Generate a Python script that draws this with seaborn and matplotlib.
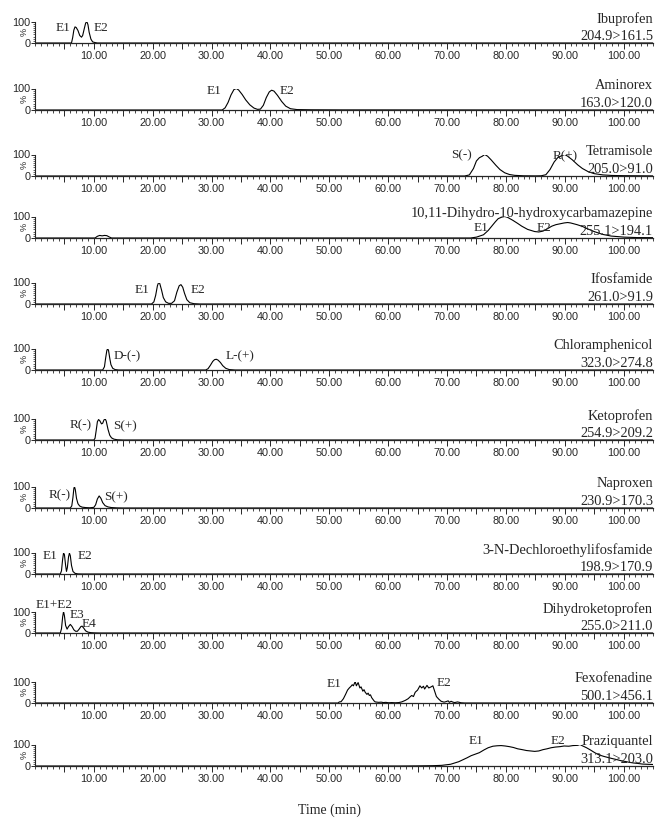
import numpy as np
import pandas as pd
import matplotlib
matplotlib.use("Agg")
import matplotlib.pyplot as plt
from matplotlib.ticker import MultipleLocator, FixedLocator
import seaborn as sns

# ---------------- data ----------------
compounds = ["Ibuprofen", "Aminorex", "Tetramisole",
             "10,11-Dihydro-10-hydroxycarbamazepine", "Ifosfamide",
             "Chloramphenicol", "Ketoprofen", "Naproxen",
             "3-N-Dechloroethylifosfamide", "Dihydroketoprofen",
             "Fexofenadine", "Praziquantel"]
transitions = ["204.9>161.5", "163.0>120.0", "205.0>91.0", "255.1>194.1",
               "261.0>91.9", "323.0>274.8", "254.9>209.2", "230.9>170.3",
               "198.9>170.9", "255.0>211.0", "500.1>456.1", "313.1>203.0"]

ibu_t = [0, 6.2, 6.4, 6.6, 6.8, 7.0, 7.3, 7.6, 7.9, 8.1, 8.4, 8.6, 8.8, 9.0, 9.2, 9.5, 9.8, 10.2, 10.6, 105]
ibu_i = [0, 0, 25, 60, 75, 72, 58, 35, 27, 35, 70, 92, 100, 85, 50, 18, 5, 2, 0, 0]

ami_t = [0, 31.8, 32.3, 32.8, 33.3, 33.8, 34.2, 34.6, 35.2, 35.8, 36.5, 37.2, 37.8, 38.3, 38.8,
         39.3, 39.8, 40.2, 40.6, 41.2, 41.9, 42.6, 43.4, 44.5, 47, 52, 105]
ami_i = [0, 0, 10, 35, 70, 95, 100, 93, 72, 47, 24, 9, 3, 4, 22,
         58, 84, 92, 88, 68, 40, 18, 6, 2, 1, 0.5, 0]

tet_t = [0, 73.0, 73.8, 74.5, 75.0, 75.5, 76.0, 76.4, 76.9, 77.5, 78.3, 79.0, 79.8, 80.6, 81.5, 83, 85,
         86.0, 86.8, 87.5, 88.2, 88.8, 89.5, 90.0, 90.5, 91.3, 92.2, 93.0, 94.0, 95.0, 96.5, 98, 100, 105]
tet_i = [0, 0, 5, 35, 70, 85, 92, 100, 92, 75, 50, 30, 15, 7, 3, 1, 0.5,
         1, 6, 30, 65, 85, 95, 100, 92, 75, 52, 35, 20, 11, 5, 2.5, 1.5, 0.5]

dhc_t = [0, 10.2, 10.6, 11.0, 11.4, 11.8, 12.2, 12.6, 13.0, 74.0, 75.0, 76.2, 77.0, 77.6, 78.2, 78.7,
         79.3, 79.8, 80.3, 81.2, 82.0, 82.7, 83.7, 84.9, 85.6, 86.3, 87.0, 87.8, 88.5, 89.2, 89.9,
         90.5, 91.0, 92.1, 93.0, 93.6, 95.0, 96.4, 97.9, 100.1, 102.3, 105]
dhc_i = [0, 0, 8, 12, 10, 12, 11, 5, 0, 0, 4, 15, 35, 55, 75, 90,
         97, 100, 96, 82, 68, 55, 40, 30, 28, 32, 42, 55, 62, 66, 70,
         72, 70, 62, 54, 46, 30, 17, 9, 4, 2, 1.5]

ifo_t = [0, 19.8, 20.2, 20.5, 20.8, 21.0, 21.2, 21.5, 21.8, 22.2, 22.7, 23.2, 23.7, 24.1, 24.5, 24.8,
         25.1, 25.4, 25.8, 26.3, 27, 28, 105]
ifo_i = [0, 0, 10, 40, 85, 100, 95, 65, 30, 10, 3, 3, 15, 55, 85, 90,
         78, 50, 20, 6, 1.5, 0, 0]

chl_t = [0, 11.5, 11.8, 12.0, 12.2, 12.35, 12.5, 12.7, 12.9, 13.2, 13.6, 14.2, 29.0, 29.4, 29.8, 30.2,
         30.5, 30.8, 31.1, 31.5, 31.9, 32.4, 33.0, 34, 105]
chl_i = [0, 0, 15, 55, 90, 100, 90, 55, 25, 8, 2, 0, 0, 6, 22, 40,
         48, 50, 46, 35, 20, 8, 2, 0, 0]

ket_t = [0, 10.0, 10.2, 10.4, 10.6, 10.8, 11.0, 11.3, 11.5, 11.7, 11.9, 12.1, 12.4, 12.7, 13.0, 13.4, 14, 15, 105]
ket_i = [0, 0, 8, 45, 85, 95, 90, 75, 78, 92, 100, 88, 50, 22, 10, 4, 1, 0, 0]

nap_t = [0, 6.0, 6.25, 6.45, 6.6, 6.7, 6.85, 7.05, 7.3, 7.6, 8.0, 8.6, 9.3, 10.0, 10.3, 10.6, 10.9,
         11.2, 11.5, 11.9, 12.4, 13.0, 14, 15, 105]
nap_i = [0, 0, 10, 50, 90, 100, 85, 45, 20, 9, 4, 2, 1, 3, 15, 42, 56,
         45, 25, 11, 5, 2, 0.5, 0, 0]

dcl_t = [0, 4.3, 4.5, 4.7, 4.85, 5.0, 5.2, 5.35, 5.5, 5.7, 5.85, 6.0, 6.2, 6.45, 6.8, 7.3, 8, 105]
dcl_i = [0, 0, 15, 70, 98, 90, 40, 12, 30, 80, 97, 85, 40, 12, 3, 0.5, 0, 0]

dhk_t = [0, 4.3, 4.5, 4.7, 4.85, 5.0, 5.2, 5.45, 5.7, 6.0, 6.3, 6.6, 6.9, 7.2, 7.5, 7.8, 8.0, 8.3,
         8.6, 9.0, 9.5, 10.2, 11, 105]
dhk_i = [0, 0, 20, 75, 100, 80, 35, 18, 30, 40, 30, 15, 8, 8, 18, 30, 32, 22,
         10, 4, 1.5, 0.5, 0, 0]

fex_t = [0, 51.5, 51.7, 52.0, 52.4, 52.8, 53.1, 53.4, 53.7, 53.9, 54.1, 54.4, 54.6, 54.9, 55.2, 55.4,
         55.7, 55.9, 56.1, 56.4, 56.6, 56.8, 57.0, 57.2, 57.6, 57.8, 58.4, 58.8, 59.2, 59.6, 60.1,
         60.6, 61.2, 61.8, 62.3, 62.9, 63.4, 63.7, 64.0, 64.3, 64.6, 65.0, 65.4, 65.7, 66.0, 66.2,
         66.6, 66.9, 67.3, 67.6, 67.9, 68.2, 68.6, 69.0, 69.5, 69.8, 70.2, 70.4, 70.7, 71.0, 71.3,
         71.8, 72.4, 73.0, 105]
fex_i = [0, 0, 5, 6, 20, 42, 60, 70, 78, 85, 80, 100, 80, 95, 70, 75,
         55, 62, 50, 40, 46, 35, 38, 25, 10, 5, 3, 4, 2, 3, 1,
         2, 1, 2, 5, 12, 20, 28, 35, 30, 50, 60, 80, 70, 78, 65,
         82, 70, 75, 80, 55, 30, 18, 8, 4, 6, 10, 3, 8, 4, 2,
         5, 1, 0, 0]

pzq_t = [0, 62.0, 64.7, 67.6, 69.1, 70.6, 72.0, 73.4, 74.1, 74.8, 75.5, 76.3, 77.0, 77.8, 78.5, 79.2,
         79.9, 80.6, 81.3, 82.0, 82.8, 83.5, 84.2, 84.9, 85.6, 86.3, 87.0, 87.7, 88.4, 89.2, 89.9,
         90.7, 91.4, 92.2, 92.6, 93.0, 93.7, 94.4, 95.1, 95.8, 96.6, 97.3, 98.0, 98.8, 99.5, 100.3,
         101.0, 101.7, 102.4, 103.2, 104.0, 105]
pzq_i = [0, 0, 0.5, 1.5, 3, 8, 20, 38, 48, 55, 62, 75, 85, 92, 94, 95,
         93, 90, 86, 80, 76, 72, 70, 68, 70, 76, 80, 85, 88, 90, 93,
         92, 95, 96, 100, 94, 85, 74, 62, 52, 45, 40, 35, 30, 25, 21,
         17, 14, 12, 9, 8, 7]

times = [ibu_t, ami_t, tet_t, dhc_t, ifo_t, chl_t, ket_t, nap_t, dcl_t, dhk_t, fex_t, pzq_t]
intens = [ibu_i, ami_i, tet_i, dhc_i, ifo_i, chl_i, ket_i, nap_i, dcl_i, dhk_i, fex_i, pzq_i]

peak_labels = [["E1", "E2"], ["E1", "E2"], ["S(-)", "R(+)"], ["E1", "E2"], ["E1", "E2"],
               ["D-(-)", "L-(+)"], ["R(-)", "S(+)"], ["R(-)", "S(+)"], ["E1", "E2"],
               ["E1+E2", "E3", "E4"], ["E1", "E2"], ["E1", "E2"]]

x_ticks = [10, 20, 30, 40, 50, 60, 70, 80, 90, 100]
x_tick_labels = ["10.00", "20.00", "30.00", "40.00", "50.00", "60.00",
                 "70.00", "80.00", "90.00", "100.00"]
y_tick_labels = ["0", "100"]

# ---------------- layout ----------------
label_pos = [
    [(6.0, 72, "right"), (10.0, 72, "left")],
    [(31.6, 88, "right"), (41.6, 88, "left")],
    [(74.2, 95, "right"), (88.0, 92, "left")],
    [(77.0, 45, "right"), (85.3, 45, "left")],
    [(19.4, 67, "right"), (26.4, 67, "left")],
    [(13.4, 65, "left"), (32.4, 65, "left")],
    [(9.6, 70, "right"), (13.2, 62, "left")],
    [(6.0, 60, "right"), (11.8, 50, "left")],
    [(3.9, 85, "right"), (7.3, 85, "left")],
    [(3.3, 130, "center"), (5.9, 82, "left"), (7.9, 40, "left")],
    [(52.0, 88, "right"), (68.2, 92, "left")],
    [(75.0, 116, "center"), (88.9, 116, "center")],
]
baselines = [43, 110, 176, 238, 304, 370, 440, 508, 574, 633, 703, 766]
W, H = 660, 823
ax_left, ax_right, ax_h = 35, 653, 21.5

sns.set_style("ticks")
plt.rcParams["font.family"] = ["Liberation Serif", "DejaVu Serif"]
plt.rcParams["axes.linewidth"] = 0.8

fig = plt.figure(figsize=(W / 100, H / 100), dpi=100)
sans = ["Liberation Sans", "DejaVu Sans"]

for k in range(len(compounds)):
    b = baselines[k]
    ax = fig.add_axes([ax_left / W, 1 - b / H, (ax_right - ax_left) / W, ax_h / H])
    df = pd.DataFrame({"t": times[k], "v": intens[k]})
    sns.lineplot(data=df, x="t", y="v", ax=ax, color="black", linewidth=0.8,
                 estimator=None, sort=False)
    ax.set_xlim(0, 105)
    ax.set_ylim(0, 100)
    ax.set_xlabel("")
    ax.set_ylabel("")
    for s in ["top", "right"]:
        ax.spines[s].set_visible(False)
    ax.spines["left"].set_linewidth(0.8)
    ax.spines["bottom"].set_linewidth(0.9)

    # x ticks
    ax.xaxis.set_major_locator(FixedLocator(np.arange(5, 105, 5)))
    ax.set_xticklabels([x_tick_labels[x_ticks.index(int(v))] if int(v) in x_ticks else ""
                        for v in np.arange(5, 105, 5)])
    ax.xaxis.set_minor_locator(MultipleLocator(1))
    ax.tick_params(axis="x", which="major", direction="out", length=4, width=0.7,
                   pad=1.5, labelsize=7.8)
    ax.tick_params(axis="x", which="minor", direction="out", length=2, width=0.6)
    for lab in ax.get_xticklabels():
        lab.set_fontfamily(sans)

    # y ticks
    ax.set_yticks([0, 100])
    ax.set_yticklabels(y_tick_labels)
    ax.yaxis.set_minor_locator(MultipleLocator(10))
    ax.tick_params(axis="y", which="major", direction="out", length=3, width=0.7,
                   pad=0.5, labelsize=7.8)
    ax.tick_params(axis="y", which="minor", direction="out", length=1.5, width=0.5)
    for lab in ax.get_yticklabels():
        lab.set_fontfamily(sans)
    ax.text(-0.010, 0.5, "%", rotation=90, transform=ax.transAxes, ha="right",
            va="center", fontsize=6.5, family=sans)

    # compound name and transition
    ax.text(1.0, 1.13, compounds[k], transform=ax.transAxes, ha="right", va="center",
            fontsize=10.4, clip_on=False)
    ax.text(1.0, 0.30, transitions[k], transform=ax.transAxes, ha="right", va="center",
            fontsize=10.4, clip_on=False)

    # peak labels
    for lab, (lx, ly, ha) in zip(peak_labels[k], label_pos[k]):
        ax.text(lx, ly, lab, ha=ha, va="center", fontsize=9.5, clip_on=False)

fig.text(330 / W, 1 - 810 / H, "Time (min)", ha="center", va="center", fontsize=10)

fig.savefig("out.png", dpi=100)
